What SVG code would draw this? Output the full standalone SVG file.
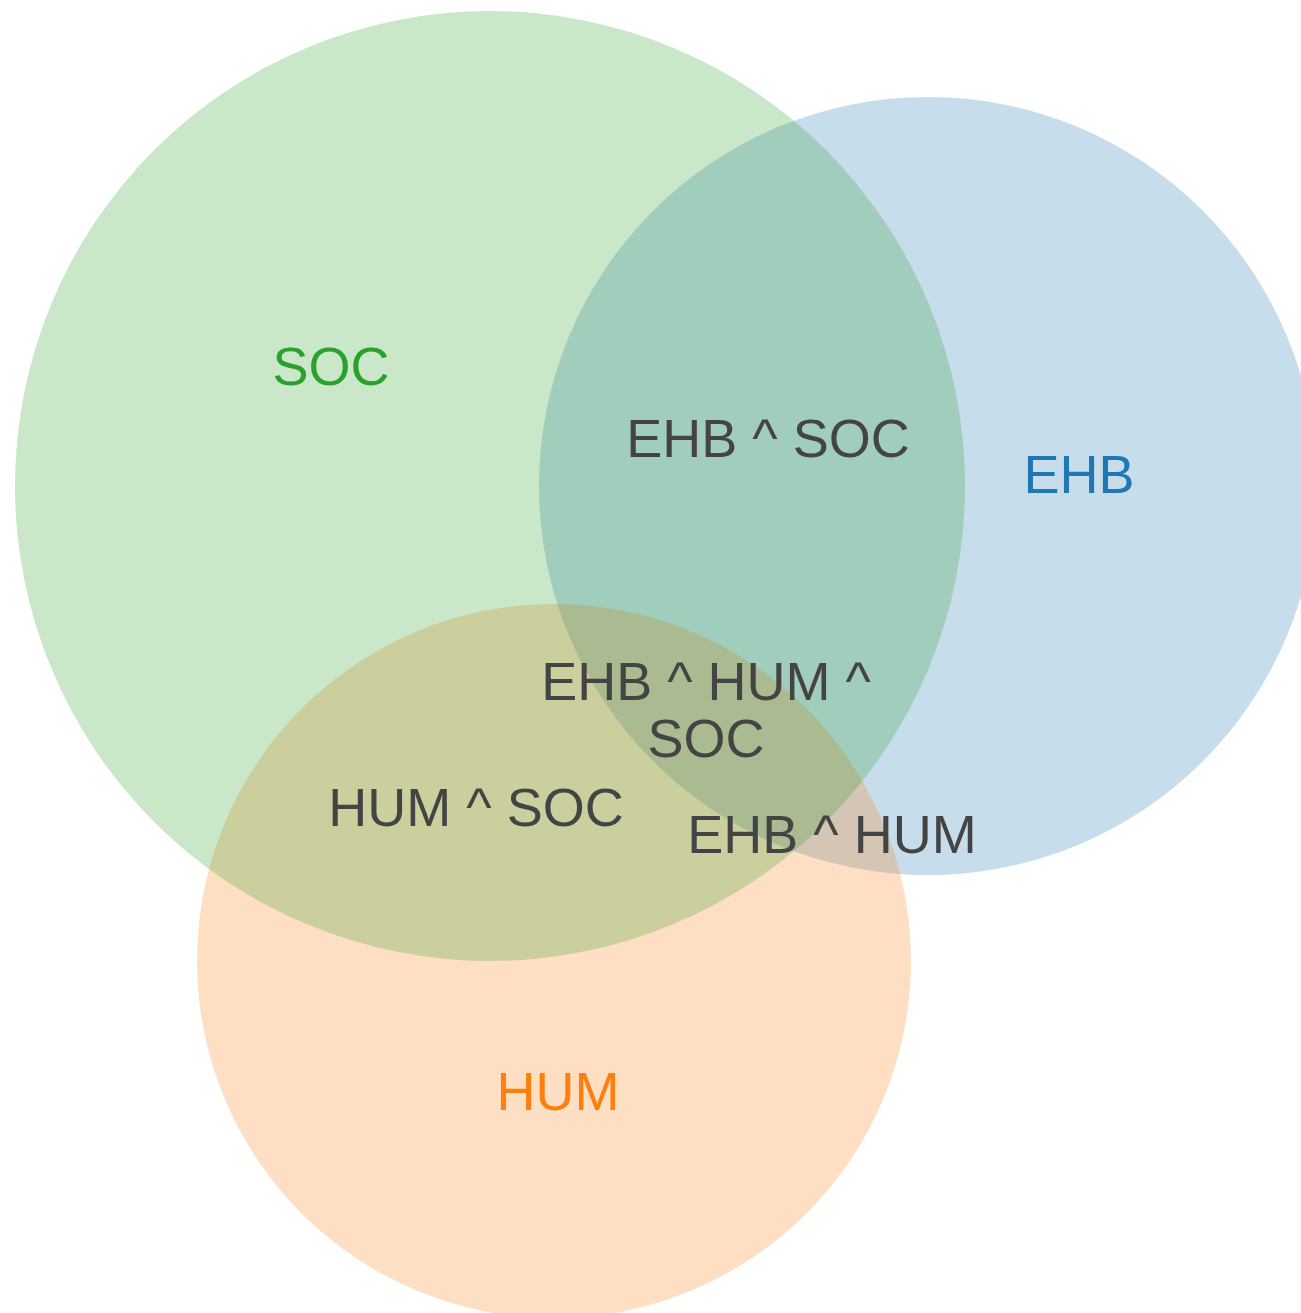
<svg xmlns="http://www.w3.org/2000/svg" width="1301" height="1313" viewBox="0 0 1301 1313">
<style>
.c{fill-opacity:0.25}
.t{font-family:"Liberation Sans",Arial,sans-serif;font-size:54px;text-anchor:middle}
.i{fill:#444444}
</style>
<rect width="1301" height="1313" fill="#ffffff"/>
<g id="EHB"><circle class="c" cx="928" cy="486" r="389" fill="#1f77b4"/></g>
<g id="HUM"><circle class="c" cx="554" cy="961" r="357" fill="#ff7f0e"/></g>
<g id="SOC"><circle class="c" cx="490" cy="486" r="475" fill="#2ca02c"/></g>
<g id="connectors"></g>
<g id="labels">
<text class="t" x="331" y="385" fill="#2ca02c">SOC</text>
<text class="t" x="1079" y="493" fill="#1f77b4">EHB</text>
<text class="t" x="558" y="1110" fill="#ff7f0e">HUM</text>
<text class="t i" x="768" y="457">EHB ^ SOC</text>
<text class="t i" x="706" y="700">EHB ^ HUM ^</text>
<text class="t i" x="706" y="757">SOC</text>
<text class="t i" x="476" y="826">HUM ^ SOC</text>
<text class="t i" x="832" y="853">EHB ^ HUM</text>
</g>
</svg>
